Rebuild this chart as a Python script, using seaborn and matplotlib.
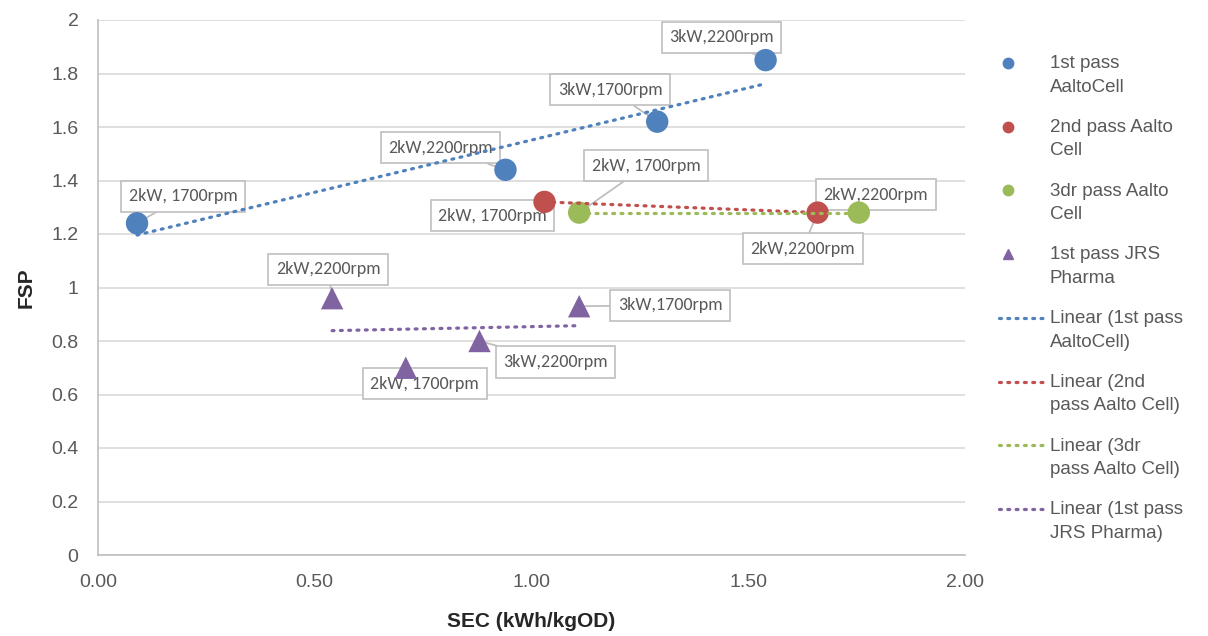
import matplotlib
matplotlib.use("Agg")
import matplotlib.pyplot as plt
from matplotlib.lines import Line2D
from matplotlib.legend_handler import HandlerLine2DCompound
from matplotlib.ticker import FuncFormatter
from matplotlib import font_manager
import seaborn as sns
import pandas as pd
import numpy as np

# ---------------- data ----------------
series_names = ["1st pass AaltoCell", "2nd pass Aalto Cell", "3dr pass Aalto Cell", "1st pass JRS Pharma"]

sec_aalto1 = [0.09, 0.94, 1.29, 1.54]
fsp_aalto1 = [1.24, 1.44, 1.62, 1.85]
lab_aalto1 = ["2kW, 1700rpm", "2kW,2200rpm", "3kW,1700rpm", "3kW,2200rpm"]

sec_aalto2 = [1.03, 1.66]
fsp_aalto2 = [1.32, 1.28]
lab_aalto2 = ["2kW, 1700rpm", "2kW,2200rpm"]

sec_aalto3 = [1.11, 1.755]
fsp_aalto3 = [1.28, 1.28]
lab_aalto3 = ["2kW, 1700rpm", "2kW,2200rpm"]

sec_jrs = [0.54, 0.71, 0.88, 1.11]
fsp_jrs = [0.96, 0.70, 0.80, 0.93]
lab_jrs = ["2kW,2200rpm", "2kW, 1700rpm", "3kW,2200rpm", "3kW,1700rpm"]

x_ticks = [0.0, 0.5, 1.0, 1.5, 2.0]
y_ticks = [0, 0.2, 0.4, 0.6, 0.8, 1.0, 1.2, 1.4, 1.6, 1.8, 2.0]

# ---------------- styles ----------------
colors = ["#4F81BD", "#C0504D", "#9BBB59", "#8064A2"]
markers = ["o", "o", "o", "^"]
# label offsets (pixels) from the point to the label centre
offsets = [
    [(46, 27), (-65, 22), (-47, 32), (-44, 23)],
    [(-52, -14), (-15, -36)],
    [(67, 47), (17, 18)],
    [(-4, 29), (19, -16), (76, -21), (91, 1)],
]

sns.set_theme(style="white")
plt.rcParams["font.family"] = ["Liberation Sans", "DejaVu Sans"]

installed = {f.name for f in font_manager.fontManager.ttflist}
label_font = next((f for f in ["Carlito", "Open Sans", "Lato", "Noto Sans", "Liberation Sans"] if f in installed),
                  "DejaVu Sans")

xs = [sec_aalto1, sec_aalto2, sec_aalto3, sec_jrs]
ys = [fsp_aalto1, fsp_aalto2, fsp_aalto3, fsp_jrs]
labs = [lab_aalto1, lab_aalto2, lab_aalto3, lab_jrs]

rows = []
for name, xv, yv, lv in zip(series_names, xs, ys, labs):
    for a, b, c in zip(xv, yv, lv):
        rows.append({"series": name, "SEC": a, "FSP": b, "label": c})
df = pd.DataFrame(rows)

fig = plt.figure(figsize=(12.08, 6.36), dpi=100)
ax = fig.add_axes([98 / 1208, 81 / 636, 867 / 1208, 535 / 636])

sns.scatterplot(
    data=df, x="SEC", y="FSP", hue="series", style="series",
    palette=dict(zip(series_names, colors)),
    markers=dict(zip(series_names, markers)),
    s=260, linewidth=0, legend=False, ax=ax, zorder=5,
)

# trendlines
for name, c in zip(series_names, colors):
    sub = df[df["series"] == name]
    sns.regplot(
        data=sub, x="SEC", y="FSP", scatter=False, ci=None, truncate=True, ax=ax,
        line_kws=dict(color=c, lw=2.3, linestyle=(0, (0.6, 2.0)),
                      dash_capstyle="round", zorder=6),
    )

# data labels
for name, offs in zip(series_names, offsets):
    sub = df[df["series"] == name].reset_index(drop=True)
    for i, r in sub.iterrows():
        ax.annotate(
            r["label"], xy=(r["SEC"], r["FSP"]), xytext=offs[i], textcoords="offset pixels",
            ha="center", va="center", fontsize=13, color="#595959",
            family=[label_font, "DejaVu Sans"],
            bbox=dict(boxstyle="square,pad=0.42", fc="white", ec="#BFBFBF", lw=1.2),
            arrowprops=dict(arrowstyle="-", color="#BFBFBF", lw=1.3, shrinkA=0, shrinkB=0),
            zorder=4,
        )

ax.set_xlim(0, 2)
ax.set_ylim(0, 2)
ax.set_xticks(x_ticks)
ax.set_yticks(y_ticks)
ax.xaxis.set_major_formatter(FuncFormatter(lambda v, p: f"{v:.2f}"))
ax.yaxis.set_major_formatter(FuncFormatter(lambda v, p: f"{v:g}"))
ax.tick_params(axis="both", labelsize=14, colors="#595959", length=0)
ax.tick_params(axis="x", pad=14)
ax.tick_params(axis="y", pad=14)
ax.grid(axis="y", color="#D9D9D9", lw=1.2)
ax.set_axisbelow(True)
for s in ["top", "right"]:
    ax.spines[s].set_visible(False)
for s in ["left", "bottom"]:
    ax.spines[s].set_color("#BFBFBF")
    ax.spines[s].set_linewidth(1.2)

ax.set_xlabel("SEC (kWh/kgOD)", fontsize=15, fontweight="bold", color="#262626", labelpad=15)
ax.set_ylabel("FSP", fontsize=15, fontweight="bold", color="#262626", labelpad=11)


class FirstLineHandler(HandlerLine2DCompound):
    """Legend handle aligned with the first text line, marker placed left."""

    def __init__(self, marker_frac=0.2, shift=9.0, **kw):
        super().__init__(**kw)
        self.marker_frac = marker_frac
        self.shift = shift

    def get_xdata(self, legend, xdescent, ydescent, width, height, fontsize):
        xd, _ = super().get_xdata(legend, xdescent, ydescent, width, height, fontsize)
        return xd, np.array([-xdescent + width * self.marker_frac])

    def create_artists(self, legend, orig_handle, xdescent, ydescent, width, height, fontsize, trans):
        arts = super().create_artists(legend, orig_handle, xdescent, ydescent, width, height,
                                      fontsize, trans)
        for a in arts:
            a.set_ydata(np.asarray(a.get_ydata()) + self.shift)
        return arts


# legend
legend_labels = [
    "1st pass\nAaltoCell", "2nd pass Aalto\nCell", "3dr pass Aalto\nCell", "1st pass JRS\nPharma",
    "Linear (1st pass\nAaltoCell)", "Linear (2nd\npass Aalto Cell)",
    "Linear (3dr\npass Aalto Cell)", "Linear (1st pass\nJRS Pharma)",
]
handles = []
for c, m in zip(colors, markers):
    handles.append(Line2D([], [], color=c, marker=m, linestyle="none", markersize=7.5))
for c in colors:
    handles.append(Line2D([], [], color=c, lw=2.3, linestyle=(0, (0.6, 2.0)), dash_capstyle="round"))

leg = fig.legend(
    handles, legend_labels, loc="upper left", bbox_to_anchor=(986 / 1208, 1 - 42 / 636),
    frameon=False, fontsize=13.5, labelcolor="#595959", handlelength=2.4,
    handletextpad=0.3, labelspacing=1.24, borderpad=0.2,
    handler_map={h: FirstLineHandler() for h in handles},
)
for t in leg.get_texts():
    t.set_linespacing(1.5)

fig.savefig("out.png", dpi=100)
